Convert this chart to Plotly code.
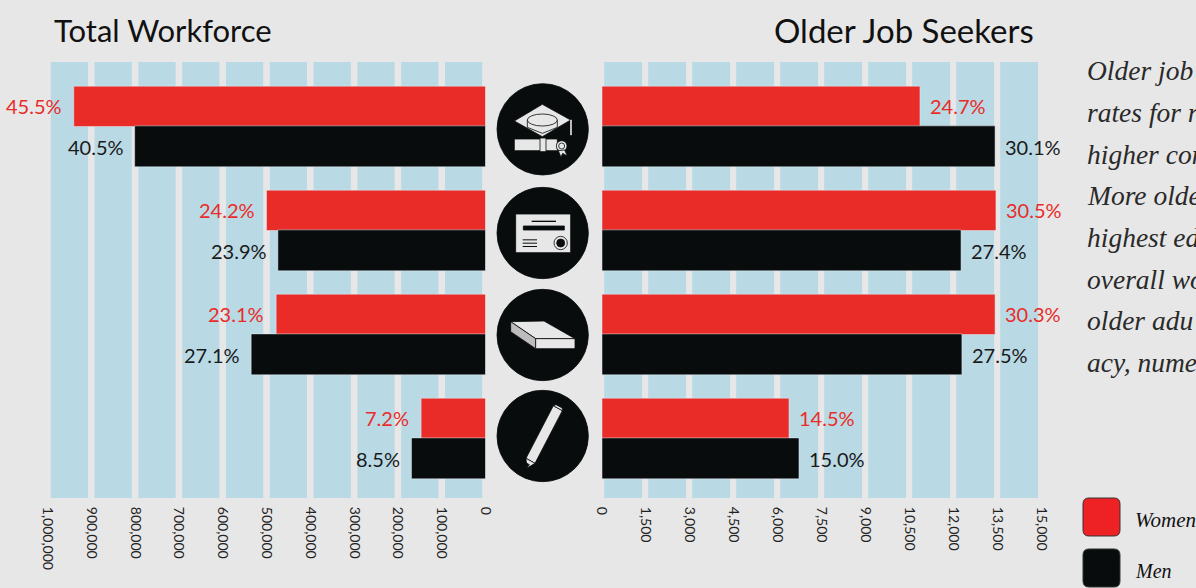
import plotly.graph_objects as go

# ---- data ----
categories = ["Bachelor's degree or higher", "Some college or associate degree", "High school diploma", "Less than high school"]
workforce_women = [940000, 500000, 478000, 147000]
workforce_men = [801000, 474000, 535000, 169000]
seekers_women = [10840, 13430, 13400, 6375]
seekers_men = [13400, 12240, 12270, 6715]
workforce_women_pct = ["45.5%", "24.2%", "23.1%", "7.2%"]
workforce_men_pct = ["40.5%", "23.9%", "27.1%", "8.5%"]
seekers_women_pct = ["24.7%", "30.5%", "30.3%", "14.5%"]
seekers_men_pct = ["30.1%", "27.4%", "27.5%", "15.0%"]
workforce_ticks = [1000000, 900000, 800000, 700000, 600000, 500000, 400000, 300000, 200000, 100000, 0]
seekers_ticks = [0, 1500, 3000, 4500, 6000, 7500, 9000, 10500, 12000, 13500, 15000]
body_lines = ["Older job", "rates for r", "higher con", "More olde", "highest ed", "overall wo", "older adu", "acy, nume"]

RED, BLACK, BLUE, BG = "#E92C27", "#090C0D", "#B9D9E5", "#E7E7E7"
W, H = 1196, 588
HAND = "Lato, sans-serif"
ITAL = "Liberation Serif, serif"

def px(x): return x / W
def py(y): return 1 - y / H

def path(cmds):
    out = []
    for c in cmds:
        if isinstance(c, str):
            out.append(c)
        else:
            out.append(f"{px(c[0]):.5f},{py(c[1]):.5f}")
    return " ".join(out)

def z(X, Y):
    return (480 + X / 3, 70 + Y / 3)

def poly(points, fill=BG, line=BLACK, lw=0.8):
    cmds = []
    for i, p in enumerate(points):
        cmds += ["M" if i == 0 else "L", z(*p)]
    cmds.append("Z")
    return dict(type="path", xref="paper", yref="paper", path=path(cmds), fillcolor=fill,
                line=dict(color=line, width=lw), layer="above")

def ellipse(X, Y, rx, ry, fill=BG, line=BLACK, lw=0.8):
    x0, y0 = z(X - rx, Y - ry)
    x1, y1 = z(X + rx, Y + ry)
    return dict(type="circle", xref="paper", yref="paper", x0=px(x0), x1=px(x1), y0=py(y1), y1=py(y0),
                fillcolor=fill, line=dict(color=line, width=lw), layer="above")

def rect(X0, Y0, X1, Y1, fill=BG, line=BLACK, lw=0.8):
    return poly([(X0, Y0), (X1, Y0), (X1, Y1), (X0, Y1)], fill, line, lw)

def rounded(x0, y0, x1, y1, r, fill):
    cmds = ["M", (x0 + r, y0), "L", (x1 - r, y0), "Q", (x1, y0), (x1, y0 + r), "L", (x1, y1 - r),
            "Q", (x1, y1), (x1 - r, y1), "L", (x0 + r, y1), "Q", (x0, y1), (x0, y1 - r), "L", (x0, y0 + r),
            "Q", (x0, y0), (x0 + r, y0), "Z"]
    return dict(type="path", xref="paper", yref="paper", path=path(cmds), fillcolor=fill,
                line=dict(color="#333333", width=1), layer="above")

fig = go.Figure()
BAR_H = 0.388
SEAM = 0.006
common = dict(orientation="h", hoverinfo="x+y+name", showlegend=False)
fig.add_bar(y=categories, x=workforce_women, name="Women", marker_color=RED, xaxis="x", yaxis="y", offset=-BAR_H, width=BAR_H, **common)
fig.add_bar(y=categories, x=workforce_men, name="Men", marker_color=BLACK, xaxis="x", yaxis="y", offset=-SEAM, width=BAR_H + SEAM, **common)
fig.add_bar(y=categories, x=seekers_women, name="Women", marker_color=RED, xaxis="x2", yaxis="y", offset=-BAR_H, width=BAR_H, **common)
fig.add_bar(y=categories, x=seekers_men, name="Men", marker_color=BLACK, xaxis="x2", yaxis="y", offset=-SEAM, width=BAR_H + SEAM, **common)

shapes = []
# pale column bands between the ticks
step_l = workforce_ticks[0] - workforce_ticks[1]
for t in workforce_ticks[1:]:
    shapes.append(dict(type="rect", xref="x", yref="y domain", x0=t + 0.075 * step_l, x1=t + 0.925 * step_l,
                       y0=0, y1=1, fillcolor=BLUE, line_width=0, layer="below"))
step_r = seekers_ticks[1] - seekers_ticks[0]
for t in seekers_ticks[:-1]:
    shapes.append(dict(type="rect", xref="x2", yref="y domain", x0=t + 0.05 * step_r, x1=t + 0.91 * step_r,
                       y0=0, y1=1, fillcolor=BLUE, line_width=0, layer="below"))

# icon discs
for Y in (178, 489, 795, 1098):
    shapes.append(ellipse(188, Y, 137, 137, fill=BLACK, line=BLACK))

# cap + diploma
shapes += [
    rect(103, 207, 232, 242),
    rect(180, 204, 198, 245),
    ellipse(245, 228, 16, 16, fill=BG),
    ellipse(245, 228, 9, 9, fill=BG),
    poly([(235, 242), (243, 262), (248, 250), (262, 258), (254, 240)]),
    poly([(103, 153), (187, 103), (272, 150), (187, 200)]),
    poly([(142, 150), (232, 150), (232, 172), (187, 190), (142, 172)]),
    ellipse(187, 150, 45, 18),
    poly([(272, 150), (274, 150), (274, 195), (272, 195)], fill=BG, line=BG, lw=0.8),
]
# certificate
shapes += [
    rect(107, 432, 272, 548),
    rect(130, 468, 253, 480, fill=BLACK),
    rect(155, 452, 228, 456, fill=BLACK, lw=0),
    rect(128, 508, 171, 511, fill=BLACK, lw=0),
    rect(128, 518, 171, 521, fill=BLACK, lw=0),
    rect(128, 528, 171, 531, fill=BLACK, lw=0),
    ellipse(242, 519, 20, 20),
    ellipse(242, 519, 12, 12, fill=BLACK),
]
# book
shapes += [
    poly([(92, 755), (192, 753), (285, 806), (167, 806)]),
    poly([(92, 755), (167, 806), (167, 836), (92, 785)], fill="#BDBDBD"),
    poly([(167, 806), (285, 806), (285, 836), (167, 836)]),
]
# pencil
shapes += [
    poly([(138, 1165), (220, 1007), (247, 1022), (165, 1180)]),
    poly([(138, 1165), (165, 1180), (140, 1195)]),
    poly([(138, 1178), (148, 1184), (140, 1195)], fill=BLACK),
    poly([(220, 1007), (228, 1004), (247, 1014), (247, 1022)]),
]
# legend swatches
shapes.append(rounded(1083, 498, 1120, 536, 6, "#EE2225"))
shapes.append(rounded(1083, 549, 1120, 587, 6, BLACK))

ann = []
def labels(values, texts, color, offset, xaxis, xanchor, xshift):
    for i, (v, t) in enumerate(zip(values, texts)):
        ann.append(dict(x=v, y=i + offset, xref=xaxis, yref="y", text=t, showarrow=False, xanchor=xanchor,
                        xshift=xshift, font=dict(family=HAND, size=20, color=color)))
labels(workforce_women, workforce_women_pct, RED, -0.195, "x", "right", -10)
labels(workforce_men, workforce_men_pct, "#1A1A1A", 0.195, "x", "right", -9)
labels(seekers_women, seekers_women_pct, RED, -0.195, "x2", "left", 8)
labels(seekers_men, seekers_men_pct, "#1A1A1A", 0.195, "x2", "left", 8)

def free(x, y, text, size, family, anchor="left", italic=False, weight="normal", color="#111111"):
    ann.append(dict(x=px(x), y=py(y), xref="paper", yref="paper", text=text, showarrow=False, xanchor=anchor,
                    yanchor="middle", xshift=0, borderpad=0,
                    font=dict(family=family, size=size, color=color, style="italic" if italic else "normal", weight=weight)))

free(53, 30, "Total Workforce", 31, HAND)
free(1035, 30, "Older Job Seekers", 33, HAND, anchor="right")
for i, line in enumerate(body_lines):
    free(1086, 71 + i * 41.6, line, 27.5, ITAL, italic=True, color="#2A2A2A")
free(1134, 520, "Women", 21, ITAL, italic=True)
free(1134, 571, "Men", 20, ITAL, italic=True)

tickfont = dict(family=HAND, size=14, color="#222222")
axis_common = dict(anchor="y", tickmode="array", tickangle=90, ticks="outside", ticklen=5,
                   tickcolor="rgba(0,0,0,0)", showgrid=False, zeroline=False, showline=False, tickfont=tickfont)
fig.update_layout(
    width=W, height=H, margin=dict(l=0, r=0, t=0, b=0, pad=0, autoexpand=False),
    paper_bgcolor=BG, plot_bgcolor="rgba(0,0,0,0)", showlegend=False,
    xaxis=dict(domain=[px(47.5), px(485.5)], range=[1000000, 0], tickvals=workforce_ticks,
               ticktext=[f"{t:,}" for t in workforce_ticks], **axis_common),
    xaxis2=dict(domain=[px(602), px(1042)], range=[0, 15000], tickvals=seekers_ticks,
                ticktext=[f"{t:,}" for t in seekers_ticks], **axis_common),
    yaxis=dict(domain=[py(498), py(62)], range=[3.572, -0.62], type="category", categoryorder="array",
               categoryarray=categories, visible=False, anchor="x"),
    shapes=shapes, annotations=ann,
)
fig.write_html("out.html", config=dict(displayModeBar=False),
               post_script="document.body.style.margin='0';document.body.style.overflow='hidden';")
